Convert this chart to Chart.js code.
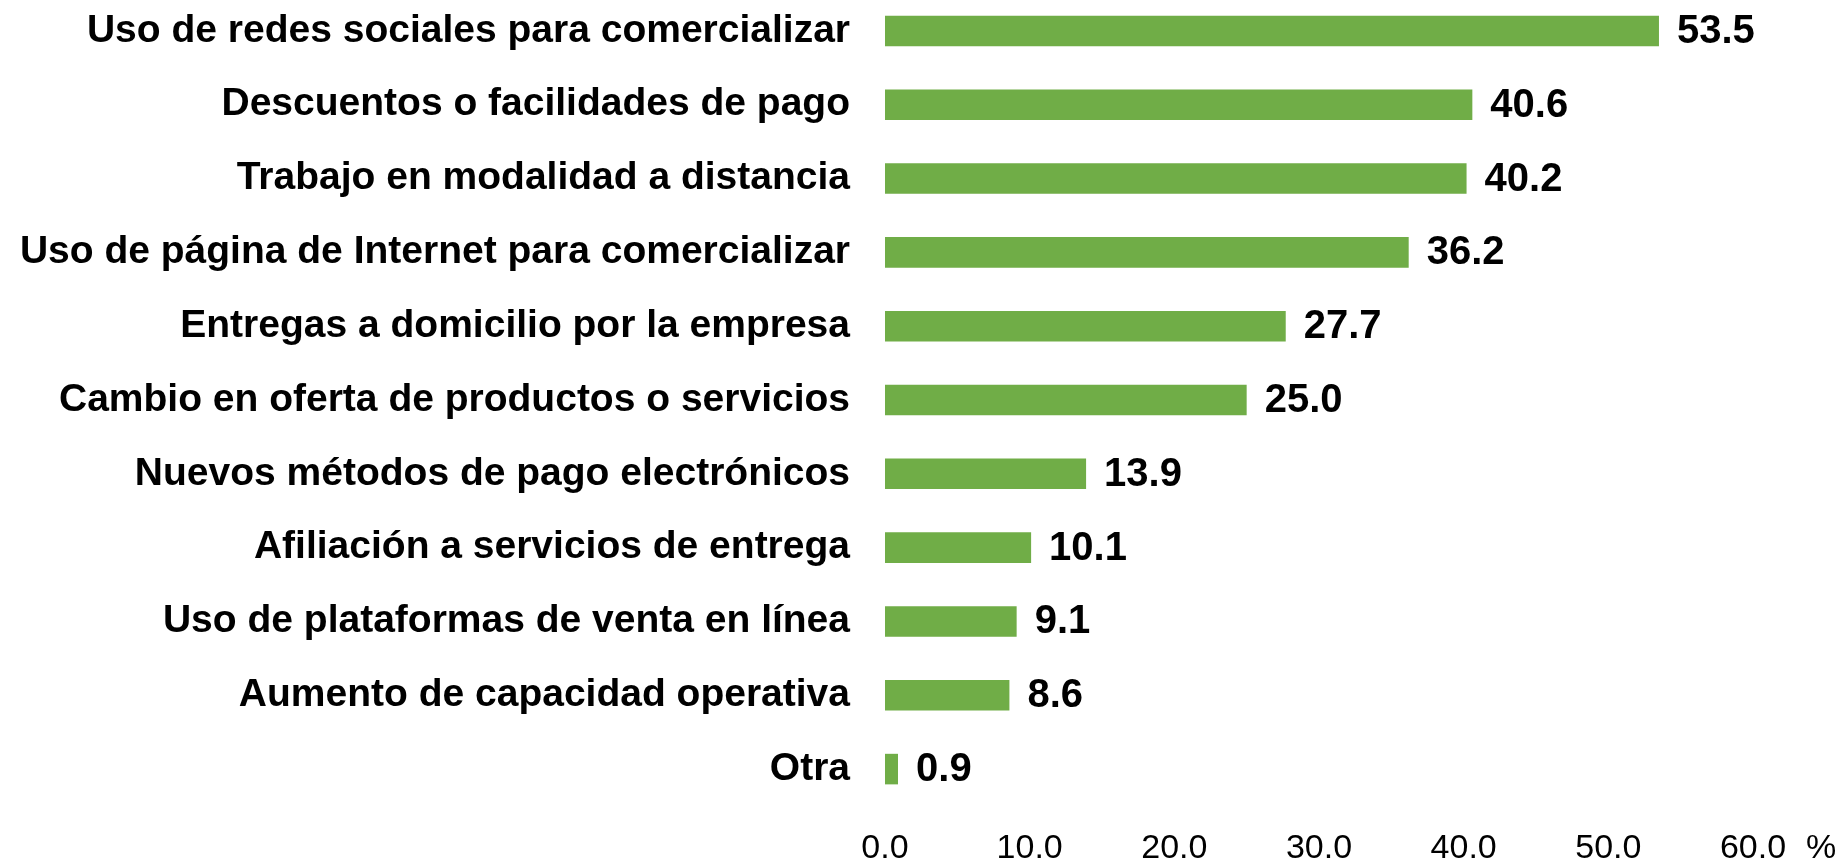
<!DOCTYPE html>
<html>
<head>
<meta charset="utf-8">
<script src="https://cdn.jsdelivr.net/npm/chart.js@4/dist/chart.umd.min.js"></script>
<style>
  html, body { margin: 0; padding: 0; background: #ffffff; overflow: hidden; }
  #wrap { position: absolute; left: 0; top: -6px; width: 1847px; height: 872px; }
</style>
</head>
<body>
<div id="wrap"><canvas id="c"></canvas></div>
<script>
const categories = [
  "Uso de redes sociales para comercializar",
  "Descuentos o facilidades de pago",
  "Trabajo en modalidad a distancia",
  "Uso de página de Internet para comercializar",
  "Entregas a domicilio por la empresa",
  "Cambio en oferta de productos o servicios",
  "Nuevos métodos de pago electrónicos",
  "Afiliación a servicios de entrega",
  "Uso de plataformas de venta en línea",
  "Aumento de capacidad operativa",
  "Otra"
];
const values = [53.5, 40.6, 40.2, 36.2, 27.7, 25.0, 13.9, 10.1, 9.1, 8.6, 0.9];
const xTickValues = [0, 10, 20, 30, 40, 50, 60];
const unitLabel = "%";

const FONT = "'Liberation Sans', Arial, sans-serif";

const valueLabels = {
  id: 'valueLabels',
  afterDatasetsDraw(chart) {
    const ctx = chart.ctx;
    const meta = chart.getDatasetMeta(0);
    ctx.save();
    ctx.font = "bold 40px " + FONT;
    ctx.fillStyle = "#000000";
    ctx.textAlign = "left";
    ctx.textBaseline = "middle";
    meta.data.forEach((bar, i) => {
      ctx.fillText(values[i].toFixed(1), bar.x + 18, bar.y + 1);
    });
    ctx.restore();
  }
};

const unitPlugin = {
  id: 'unitPlugin',
  afterDraw(chart) {
    const ctx = chart.ctx;
    const xs = chart.scales.x;
    ctx.save();
    ctx.font = "34px " + FONT;
    ctx.fillStyle = "#000000";
    ctx.textAlign = "left";
    ctx.textBaseline = "middle";
    const x = xs.getPixelForValue(xTickValues[xTickValues.length - 1]) + 53;
    ctx.fillText(unitLabel, x, chart.chartArea.bottom + 43);
    ctx.restore();
  }
};

new Chart(document.getElementById('c'), {
  type: 'bar',
  data: {
    labels: categories,
    datasets: [{
      data: values,
      backgroundColor: '#70AD47',
      borderWidth: 0,
      categoryPercentage: 1.0,
      barPercentage: 0.414
    }]
  },
  options: {
    indexAxis: 'y',
    responsive: true,
    maintainAspectRatio: false,
    animation: false,
    layout: { padding: { left: 0, right: 94, top: 0, bottom: 0 } },
    plugins: {
      legend: { display: false },
      tooltip: { enabled: false }
    },
    scales: {
      x: {
        min: 0,
        max: 60,
        afterBuildTicks(scale) {
          scale.ticks = xTickValues.map(v => ({ value: v }));
        },
        afterFit(scale) { scale.height = 60; scale.paddingLeft = 0; scale.paddingRight = 0; },
        grid: { display: false, drawTicks: false },
        border: { display: false },
        ticks: {
          padding: 22,
          color: '#000000',
          font: { family: FONT, size: 34 },
          maxRotation: 0,
          autoSkip: false,
          callback: (v) => Number(v).toFixed(1)
        }
      },
      y: {
        afterFit(scale) { scale.width = 885; scale.paddingTop = 0; scale.paddingBottom = 0; },
        grid: { display: false, drawTicks: false },
        border: { display: false },
        ticks: {
          padding: 35,
          color: '#000000',
          autoSkip: false,
          font: { family: FONT, size: 39, weight: 'bold' }
        }
      }
    }
  },
  plugins: [valueLabels, unitPlugin]
});
</script>
</body>
</html>
